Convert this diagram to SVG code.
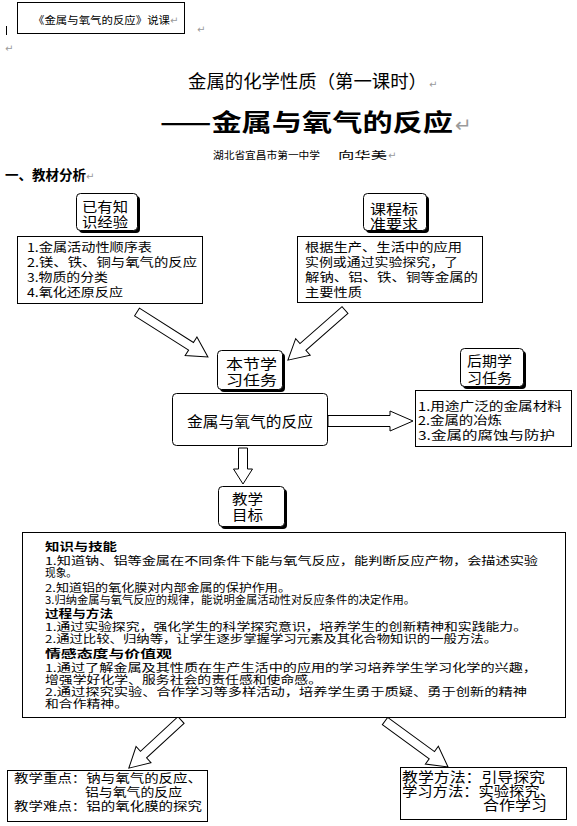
<svg xmlns="http://www.w3.org/2000/svg" width="577" height="826" viewBox="0 0 577 826">
<style>
text{font-family:"Noto Sans CJK SC","Liberation Sans",sans-serif;fill:#000}
.pm{font-family:"DejaVu Sans",sans-serif;fill:#9a9a9a;font-size:10px}
.box{fill:#fff;stroke:#000;stroke-width:1}
.sh{fill:#000}
.arr{fill:#fff;stroke:#000;stroke-width:1;stroke-linejoin:miter}
.t15{font-size:13.5px}
.t12{font-size:12px}
.t11{font-size:11px}
.b{font-weight:bold}
</style>
<rect width="577" height="826" fill="#fff"/>

<g id="header">
<rect class="box" x="17.5" y="2.5" width="167" height="31"/>
<text x="33" y="24" font-size="10.5" textLength="137" lengthAdjust="spacingAndGlyphs">《金属与氧气的反应》说课</text>
<text class="pm" x="170" y="24">↵</text>
<line x1="6.5" y1="26" x2="6.5" y2="35" stroke="#000" stroke-width="1"/>
<text class="pm" x="197" y="33">↵</text>
<text class="pm" x="5" y="52">↵</text>
</g>

<g id="title">
<text x="188" y="88" font-size="18" fill="#222" textLength="239" lengthAdjust="spacingAndGlyphs">金属的化学性质（第一课时）</text>
<text class="pm" x="429" y="88" font-size="13">↵</text>
<text x="160" y="131" font-size="24" class="b" textLength="293" lengthAdjust="spacingAndGlyphs">——金属与氧气的反应</text>
<text class="pm" x="455" y="132" style="font-size:20px">↵</text>
<text x="213" y="159" font-size="10.5" textLength="107" lengthAdjust="spacingAndGlyphs">湖北省宜昌市第一中学</text>
<text x="338" y="159" font-size="10.5" textLength="49" lengthAdjust="spacingAndGlyphs">向华美</text>
<text class="pm" x="388" y="159">↵</text>
<text x="5" y="180" font-size="13.5" class="b">一、教材分析</text>
<text class="pm" x="86" y="180">↵</text>
</g>

<g id="connectors">
<g transform="translate(137,312) rotate(32.4)"><polygon class="arr" points="0,-4.5 64,-4.5 64,-11 84,0 64,11 64,4.5 0,4.5"/></g>
<g transform="translate(345,310) rotate(138.7)"><polygon class="arr" points="0,-4.5 56,-4.5 56,-11 76,0 56,11 56,4.5 0,4.5"/></g>
<g transform="translate(328,421)"><polygon class="arr" points="0,-5.5 62,-5.5 62,-10 85,0 62,10 62,5.5 0,5.5"/></g>
<g transform="translate(243,448) rotate(90)"><polygon class="arr" points="0,-4.5 21,-4.5 21,-9.5 36,0 21,9.5 21,4.5 0,4.5"/></g>
<g transform="translate(181,720) rotate(137.3)"><polygon class="arr" points="0,-4.5 51,-4.5 51,-11 71,0 51,11 51,4.5 0,4.5"/></g>
<g transform="translate(385,721) rotate(36.1)"><polygon class="arr" points="0,-4.5 58,-4.5 58,-11 78,0 58,11 58,4.5 0,4.5"/></g>
</g>

<g id="known">
<rect class="sh" x="79" y="196" width="61" height="37" rx="4"/>
<rect class="box" x="76.5" y="193.5" width="61" height="37" rx="4"/>
<text class="t15" x="82" y="212" textLength="46" lengthAdjust="spacingAndGlyphs">已有知</text>
<text class="t15" x="82" y="227" textLength="46" lengthAdjust="spacingAndGlyphs">识经验</text>
</g>
<g id="known-list">
<rect class="box" x="17.5" y="236.5" width="185" height="67"/>
<text class="t12" x="27" y="252" textLength="125" lengthAdjust="spacingAndGlyphs">1.金属活动性顺序表</text>
<text class="t12" x="27" y="267" textLength="170" lengthAdjust="spacingAndGlyphs">2.镁、铁、铜与氧气的反应</text>
<text class="t12" x="27" y="282" textLength="81" lengthAdjust="spacingAndGlyphs">3.物质的分类</text>
<text class="t12" x="27" y="297" textLength="96" lengthAdjust="spacingAndGlyphs">4.氧化还原反应</text>
</g>

<g id="standard">
<rect class="sh" x="366" y="196" width="63" height="37" rx="4"/>
<rect class="box" x="363.5" y="193.5" width="63" height="37" rx="4"/>
<text class="t15" x="370" y="214" textLength="48" lengthAdjust="spacingAndGlyphs">课程标</text>
<text class="t15" x="370" y="229" textLength="48" lengthAdjust="spacingAndGlyphs">准要求</text>
</g>
<g id="standard-list">
<rect class="box" x="297.5" y="236.5" width="185" height="66"/>
<text class="t12" x="305" y="252" textLength="157" lengthAdjust="spacingAndGlyphs">根据生产、生活中的应用</text>
<text class="t12" x="305" y="267" textLength="153" lengthAdjust="spacingAndGlyphs">实例或通过实验探究，了</text>
<text class="t12" x="305" y="282" textLength="173" lengthAdjust="spacingAndGlyphs">解钠、铝、铁、铜等金属的</text>
<text class="t12" x="305" y="297" textLength="57" lengthAdjust="spacingAndGlyphs">主要性质</text>
</g>

<g id="task">
<rect class="sh" x="220" y="353" width="65" height="39" rx="4"/>
<rect class="box" x="217.5" y="350.5" width="65" height="39" rx="4"/>
<text class="t15" x="226" y="369" textLength="51" lengthAdjust="spacingAndGlyphs">本节学</text>
<text class="t15" x="226" y="385" textLength="51" lengthAdjust="spacingAndGlyphs">习任务</text>
</g>
<g id="main">
<rect class="box" x="172.5" y="393.5" width="155" height="52" rx="4"/>
<text x="187" y="427" font-size="14.5" textLength="126" lengthAdjust="spacingAndGlyphs">金属与氧气的反应</text>
</g>

<g id="later">
<rect class="sh" x="463" y="351" width="63" height="38" rx="4"/>
<rect class="box" x="460.5" y="348.5" width="63" height="38" rx="4"/>
<text class="t15" x="467" y="366" textLength="45" lengthAdjust="spacingAndGlyphs">后期学</text>
<text class="t15" x="467" y="383" textLength="45" lengthAdjust="spacingAndGlyphs">习任务</text>
</g>
<g id="later-list">
<rect class="box" x="415.5" y="390.5" width="156" height="56"/>
<text class="t12" x="418" y="411" textLength="144" lengthAdjust="spacingAndGlyphs">1.用途广泛的金属材料</text>
<text class="t12" x="418" y="425" textLength="84" lengthAdjust="spacingAndGlyphs">2.金属的冶炼</text>
<text class="t12" x="418" y="440" textLength="137" lengthAdjust="spacingAndGlyphs">3.金属的腐蚀与防护</text>
</g>

<g id="goal">
<rect class="sh" x="221" y="489" width="66" height="40" rx="4"/>
<rect class="box" x="218.5" y="486.5" width="66" height="40" rx="4"/>
<text class="t15" x="232" y="504" textLength="31" lengthAdjust="spacingAndGlyphs">教学</text>
<text class="t15" x="232" y="520" textLength="31" lengthAdjust="spacingAndGlyphs">目标</text>
</g>
<g id="goal-list">
<rect class="box" x="22.5" y="532.5" width="543" height="185"/>
<text class="t11 b" x="45" y="551" textLength="72" lengthAdjust="spacingAndGlyphs">知识与技能</text>
<text class="t11" x="45" y="565" textLength="493" lengthAdjust="spacingAndGlyphs">1.知道钠、铝等金属在不同条件下能与氧气反应，能判断反应产物，会描述实验</text>
<text class="t11" x="45" y="577" textLength="32" lengthAdjust="spacingAndGlyphs">现象。</text>
<text class="t11" x="45" y="592" textLength="246" lengthAdjust="spacingAndGlyphs">2.知道铝的氧化膜对内部金属的保护作用。</text>
<text class="t11" x="45" y="604" textLength="370" lengthAdjust="spacingAndGlyphs">3.归纳金属与氧气反应的规律，能说明金属活动性对反应条件的决定作用。</text>
<text class="t11 b" x="45" y="618" textLength="68" lengthAdjust="spacingAndGlyphs">过程与方法</text>
<text class="t11" x="45" y="631" textLength="482" lengthAdjust="spacingAndGlyphs">1.通过实验探究，强化学生的科学探究意识，培养学生的创新精神和实践能力。</text>
<text class="t11" x="45" y="643" textLength="452" lengthAdjust="spacingAndGlyphs">2.通过比较、归纳等，让学生逐步掌握学习元素及其化合物知识的一般方法。</text>
<text class="t11 b" x="45" y="658" textLength="127" lengthAdjust="spacingAndGlyphs">情感态度与价值观</text>
<text class="t11" x="45" y="672" textLength="492" lengthAdjust="spacingAndGlyphs">1.通过了解金属及其性质在生产生活中的应用的学习培养学生学习化学的兴趣，</text>
<text class="t11" x="45" y="684" textLength="277" lengthAdjust="spacingAndGlyphs">增强学好化学、服务社会的责任感和使命感。</text>
<text class="t11" x="45" y="696" textLength="482" lengthAdjust="spacingAndGlyphs">2.通过探究实验、合作学习等多样活动，培养学生勇于质疑、勇于创新的精神</text>
<text class="t11" x="45" y="708" textLength="83" lengthAdjust="spacingAndGlyphs">和合作精神。</text>
</g>

<g id="keypoints">
<rect class="box" x="7.5" y="770.5" width="200" height="51"/>
<text x="14" y="783" font-size="12.5" textLength="188" lengthAdjust="spacingAndGlyphs">教学重点：钠与氧气的反应、</text>
<text x="85" y="797" font-size="12.5" textLength="97" lengthAdjust="spacingAndGlyphs">铝与氧气的反应</text>
<text x="14" y="811" font-size="12.5" textLength="188" lengthAdjust="spacingAndGlyphs">教学难点：铝的氧化膜的探究</text>
</g>

<g id="methods">
<rect class="box" x="400.5" y="767.5" width="166" height="52"/>
<text x="402" y="782" font-size="13.5" textLength="143" lengthAdjust="spacingAndGlyphs">教学方法：引导探究</text>
<text x="402" y="796" font-size="13.5" textLength="153" lengthAdjust="spacingAndGlyphs">学习方法：实验探究、</text>
<text x="483" y="810" font-size="13.5" textLength="64" lengthAdjust="spacingAndGlyphs">合作学习</text>
</g>
</svg>
